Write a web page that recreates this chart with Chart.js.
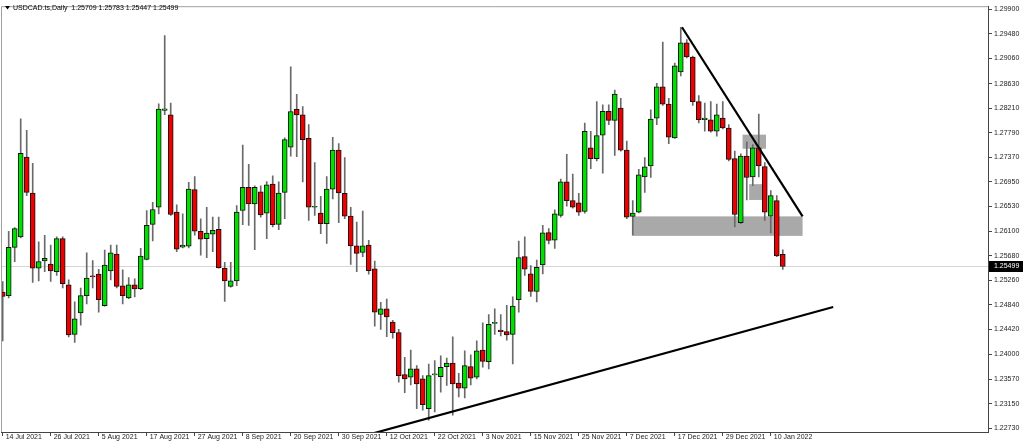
<!DOCTYPE html>
<html>
<head>
<meta charset="utf-8">
<script src="https://cdn.jsdelivr.net/npm/chart.js@4.4.1/dist/chart.umd.min.js"></script>
<style>
  html, body { margin: 0; padding: 0; background: #fff; }
  #wrap { width: 1024px; height: 447px; }
</style>
</head>
<body>
<div id="wrap"><canvas id="chart" width="1024" height="447"></canvas></div>
<script>
// daily USDCAD bars, 14 Jul 2021 .. 12 Jan 2022 (one per weekday)
const opens = [
  1.25062, 1.24999, 1.25825, 1.26005, 1.27373, 1.26757, 1.25469, 1.25593, 1.25542, 1.25412,
  1.25977, 1.25186, 1.24338, 1.24706, 1.24999, 1.25327, 1.25367, 1.24830, 1.25423, 1.25712,
  1.25169, 1.24960, 1.25186, 1.25113, 1.25621, 1.26220, 1.26514, 1.28170, 1.28097, 1.26429,
  1.25830, 1.25847, 1.26814, 1.26102, 1.25977, 1.26051, 1.26136, 1.25469, 1.25158, 1.25254,
  1.26458, 1.26853, 1.26571, 1.26779, 1.26412, 1.26910, 1.26220, 1.26768, 1.27543, 1.28192,
  1.28096, 1.27695, 1.26514, 1.26412, 1.26231, 1.26825, 1.27492, 1.26751, 1.26361, 1.25853,
  1.25740, 1.25864, 1.25457, 1.24677, 1.24773, 1.24547, 1.24366, 1.23648, 1.23603, 1.23745,
  1.23575, 1.23066, 1.23642, 1.23614, 1.23784, 1.23846, 1.23501, 1.23417, 1.23784, 1.23603,
  1.24067, 1.23869, 1.24524, 1.24411, 1.24383, 1.24338, 1.24932, 1.25667, 1.25373, 1.25073,
  1.25525, 1.26079, 1.25949, 1.26373, 1.26950, 1.26628, 1.26588, 1.26441, 1.27532, 1.27345,
  1.27747, 1.28154, 1.28001, 1.28210, 1.27492, 1.26356, 1.26430, 1.27034, 1.27221, 1.28040,
  1.28577, 1.28278, 1.27701, 1.28832, 1.29329, 1.29086, 1.28323, 1.28012, 1.28012, 1.27814,
  1.28040, 1.27871, 1.27345, 1.26249, 1.27391, 1.27034, 1.27532, 1.27210, 1.26362, 1.26627,
  1.25709
];
const highs = [
  1.25242, 1.26102, 1.26164, 1.28029, 1.27831, 1.27266, 1.25921, 1.26034, 1.25864, 1.26005,
  1.26005, 1.25271, 1.24892, 1.25130, 1.25734, 1.25599, 1.25452, 1.25779, 1.25864, 1.25864,
  1.25440, 1.25310, 1.25288, 1.25808, 1.26458, 1.26599, 1.28283, 1.29453, 1.28295, 1.26554,
  1.26401, 1.26938, 1.27040, 1.26316, 1.26514, 1.26345, 1.26345, 1.25570, 1.25570, 1.26542,
  1.27577, 1.27249, 1.26882, 1.26881, 1.26955, 1.27051, 1.26949, 1.27701, 1.28916, 1.28447,
  1.28238, 1.27927, 1.27277, 1.26700, 1.27039, 1.27712, 1.27605, 1.27362, 1.26514, 1.26259,
  1.26446, 1.25949, 1.25593, 1.24886, 1.24943, 1.24575, 1.24423, 1.23942, 1.24067, 1.23801,
  1.23631, 1.23829, 1.23886, 1.23970, 1.23931, 1.24293, 1.23671, 1.24055, 1.23987, 1.24225,
  1.24536, 1.24677, 1.24773, 1.24677, 1.24835, 1.24980, 1.25932, 1.26006, 1.25514, 1.25610,
  1.26204, 1.26147, 1.26469, 1.26995, 1.27419, 1.27080, 1.26752, 1.27956, 1.27814, 1.28323,
  1.28267, 1.28267, 1.28521, 1.28380, 1.27645, 1.26627, 1.27164, 1.27362, 1.28182, 1.28634,
  1.29340, 1.28380, 1.28984, 1.29595, 1.29386, 1.29103, 1.28425, 1.28295, 1.28323, 1.28278,
  1.28323, 1.27927, 1.27475, 1.27430, 1.27633, 1.27588, 1.28108, 1.27277, 1.26797, 1.26712,
  1.25783
];
const lows = [
  1.24225, 1.24960, 1.25582, 1.25988, 1.26712, 1.25225, 1.25254, 1.25412, 1.25242, 1.25344,
  1.25130, 1.24293, 1.24197, 1.24496, 1.24858, 1.25130, 1.24717, 1.24819, 1.25271, 1.25130,
  1.24858, 1.24950, 1.24977, 1.25101, 1.25610, 1.25938, 1.26401, 1.28097, 1.26373, 1.25751,
  1.25819, 1.25819, 1.26034, 1.25695, 1.25650, 1.25751, 1.25469, 1.24903, 1.25147, 1.25169,
  1.26215, 1.26203, 1.25785, 1.26344, 1.25977, 1.26175, 1.26129, 1.26316, 1.27390, 1.27379,
  1.26949, 1.26288, 1.26373, 1.26062, 1.25892, 1.26655, 1.26248, 1.26316, 1.25536, 1.25412,
  1.25666, 1.25366, 1.24479, 1.24423, 1.24298, 1.24270, 1.23518, 1.23337, 1.23473, 1.23066,
  1.23038, 1.22868, 1.23010, 1.23349, 1.23462, 1.22953, 1.23264, 1.23247, 1.23473, 1.23575,
  1.23773, 1.23745, 1.24338, 1.24310, 1.24236, 1.23830, 1.24717, 1.25345, 1.24988, 1.24892,
  1.25373, 1.25887, 1.25808, 1.26345, 1.26532, 1.26498, 1.26373, 1.26413, 1.27176, 1.27306,
  1.27097, 1.27928, 1.27402, 1.27475, 1.26317, 1.26034, 1.26418, 1.26769, 1.27023, 1.27927,
  1.28255, 1.27600, 1.27690, 1.28764, 1.29069, 1.28255, 1.27956, 1.27814, 1.27797, 1.27730,
  1.27854, 1.27306, 1.26175, 1.26232, 1.26639, 1.26882, 1.27034, 1.26288, 1.26074, 1.25667,
  1.25447
];
const closes = [
  1.24988, 1.25825, 1.26147, 1.27435, 1.26768, 1.25469, 1.25582, 1.25638, 1.25423, 1.25977,
  1.25203, 1.24327, 1.24604, 1.24999, 1.25299, 1.25320, 1.24932, 1.25525, 1.25734, 1.25158,
  1.24999, 1.25186, 1.25113, 1.25678, 1.26203, 1.26475, 1.28193, 1.28198, 1.26390, 1.25796,
  1.25864, 1.26825, 1.26102, 1.25966, 1.26073, 1.26119, 1.25480, 1.25254, 1.25254, 1.26429,
  1.26853, 1.26571, 1.26853, 1.26384, 1.26898, 1.26214, 1.26757, 1.27672, 1.28153, 1.28096,
  1.27672, 1.26514, 1.26520, 1.26231, 1.26825, 1.27492, 1.26757, 1.26361, 1.25853, 1.25723,
  1.25853, 1.25429, 1.24717, 1.24773, 1.24637, 1.24366, 1.23631, 1.23575, 1.23745, 1.23490,
  1.23134, 1.23631, 1.23648, 1.23773, 1.23846, 1.23490, 1.23417, 1.23801, 1.23586, 1.24055,
  1.23875, 1.24507, 1.24530, 1.24383, 1.24327, 1.24819, 1.25650, 1.25452, 1.25073, 1.25486,
  1.26074, 1.25944, 1.26402, 1.26950, 1.26628, 1.26514, 1.26430, 1.27814, 1.27345, 1.27741,
  1.28154, 1.28001, 1.28453, 1.27492, 1.26345, 1.26413, 1.27068, 1.27204, 1.28023, 1.28577,
  1.28278, 1.27713, 1.28933, 1.29329, 1.29086, 1.28323, 1.28012, 1.28040, 1.27814, 1.28097,
  1.27871, 1.27334, 1.26390, 1.27391, 1.27023, 1.27532, 1.27221, 1.26430, 1.26712, 1.25678,
  1.25499
];

// one date label every 8 bars
const dateLabels = [
  '14 Jul 2021', '26 Jul 2021', '5 Aug 2021', '17 Aug 2021', '27 Aug 2021', '8 Sep 2021',
  '20 Sep 2021', '30 Sep 2021', '12 Oct 2021', '22 Oct 2021', '3 Nov 2021', '15 Nov 2021',
  '25 Nov 2021', '7 Dec 2021', '17 Dec 2021', '29 Dec 2021', '10 Jan 2022'
];
const priceTicks = [
  1.29900, 1.29480, 1.29060, 1.28630, 1.28210, 1.27790, 1.27370, 1.26950, 1.26530,
  1.26100, 1.25680, 1.25260, 1.24840, 1.24420, 1.24000, 1.23570, 1.23150, 1.22730
];
const lastPrice = 1.25499;

// drawn objects, in bar index / price units
const zones = [            // [fromBar, toBar, top, bottom]
  [105, 133.3, 1.26357, 1.26023],
  [123.3, 127.2, 1.27757, 1.27515],
  [124.4, 127.2, 1.26909, 1.26638]
];
const trendLines = [       // [bar1, price1, bar2, price2]
  [113.2, 1.29595, 133.3, 1.26357],
  [61, 1.22621, 138.4, 1.24805]
];

const bodies = opens.map((o, i) => ({ x: i, y: [o, closes[i]] }));
const wicks = lows.map((l, i) => ({ x: i, y: [l, highs[i]] }));
const bodyColors = opens.map((o, i) => closes[i] >= o ? '#00e000' : '#ee0000');

const FONT = { family: 'Liberation Sans', size: 7 };

const drawings = {
  id: 'drawings',
  beforeDatasetsDraw(chart) {
    const { ctx, chartArea: a, scales: { x, y } } = chart;
    ctx.save();
    ctx.beginPath();
    ctx.rect(a.left, a.top, a.right - a.left, a.bottom - a.top);
    ctx.clip();
    // last price line
    const py = Math.round(y.getPixelForValue(lastPrice)) + 0.5;
    ctx.strokeStyle = '#d6d6d6';
    ctx.lineWidth = 1;
    ctx.beginPath();
    ctx.moveTo(a.left, py);
    ctx.lineTo(a.right, py);
    ctx.stroke();
    ctx.fillStyle = '#a9a9a9';
    zones.forEach(z => {
      const x1 = x.getPixelForValue(z[0]), x2 = x.getPixelForValue(z[1]);
      const y1 = y.getPixelForValue(z[2]), y2 = y.getPixelForValue(z[3]);
      ctx.fillRect(x1, y1, x2 - x1, y2 - y1);
    });
    ctx.restore();
  },
  afterDatasetsDraw(chart) {
    const { ctx, chartArea: a, scales: { x, y } } = chart;
    ctx.save();
    ctx.beginPath();
    ctx.rect(a.left, a.top, a.right - a.left, a.bottom - a.top);
    ctx.clip();
    ctx.strokeStyle = '#000';
    ctx.lineWidth = 2.2;
    trendLines.forEach(t => {
      ctx.beginPath();
      ctx.moveTo(x.getPixelForValue(t[0]), y.getPixelForValue(t[1]));
      ctx.lineTo(x.getPixelForValue(t[2]), y.getPixelForValue(t[3]));
      ctx.stroke();
    });
    ctx.restore();
  },
  afterDraw(chart) {
    const { ctx, chartArea: a, scales: { y } } = chart;
    ctx.save();
    // frame on top and left
    ctx.strokeStyle = '#a0a0a0';
    ctx.lineWidth = 1;
    ctx.beginPath();
    ctx.moveTo(a.left + 0.5, a.bottom);
    ctx.lineTo(a.left + 0.5, a.top + 0.5);
    ctx.lineTo(a.right, a.top + 0.5);
    ctx.stroke();
    // last price tag
    const py = Math.round(y.getPixelForValue(lastPrice));
    ctx.fillStyle = '#000';
    ctx.fillRect(a.right + 1, py - 5, 34, 11);
    ctx.fillStyle = '#fff';
    ctx.font = FONT.size + 'px ' + FONT.family;
    ctx.textBaseline = 'middle';
    ctx.fillText(lastPrice.toFixed(5), a.right + 6, py + 0.5);
    // title
    ctx.fillStyle = '#000';
    ctx.beginPath();
    ctx.moveTo(5, 6); ctx.lineTo(10, 6); ctx.lineTo(7.5, 9.5); ctx.closePath();
    ctx.fill();
    ctx.fillText('USDCAD.ts,Daily  ' + [opens[130], highs[130], lows[130], closes[130]]
      .map(v => v.toFixed(5)).join(' '), 13, 8);
    ctx.restore();
  }
};

Chart.defaults.font.family = FONT.family;
Chart.defaults.font.size = FONT.size;
Chart.defaults.color = '#222';

new Chart(document.getElementById('chart'), {
  type: 'bar',
  data: {
    datasets: [
      {
        data: bodies,
        backgroundColor: bodyColors,
        borderColor: '#111',
        borderWidth: 1,
        borderSkipped: false,
        barThickness: 5,
        minBarLength: 1,
        grouped: false
      },
      {
        data: wicks,
        backgroundColor: '#6a6a6a',
        borderWidth: 0,
        barThickness: 1,
        grouped: false
      }
    ]
  },
  options: {
    responsive: false,
    animation: false,
    devicePixelRatio: 1,
    layout: { padding: { left: 1, top: 2, right: 0, bottom: 0 } },
    plugins: { legend: { display: false }, tooltip: { enabled: false } },
    scales: {
      x: {
        type: 'linear',
        min: -0.283,
        max: 164.2,
        offset: false,
        afterBuildTicks: s => { s.ticks = dateLabels.map((_, k) => ({ value: k * 8 })); },
        afterFit: s => { s.height = 15; },
        ticks: {
          autoSkip: false,
          maxRotation: 0,
          align: 'start',
          labelOffset: 3,
          padding: -3,
          callback: v => dateLabels[v / 8]
        },
        grid: { offset: false, drawOnChartArea: false, tickLength: 4, color: '#444' },
        border: { color: '#444' }
      },
      y: {
        position: 'right',
        min: 1.22665,
        max: 1.29956,
        beginAtZero: false,
        afterBuildTicks: s => { s.ticks = priceTicks.map(v => ({ value: v })); },
        afterFit: s => { s.width = 36; },
        ticks: { padding: 2, callback: v => v.toFixed(5) },
        grid: { drawOnChartArea: false, tickLength: 4, color: '#444' },
        border: { color: '#444' }
      }
    }
  },
  plugins: [drawings]
});
</script>
</body>
</html>
